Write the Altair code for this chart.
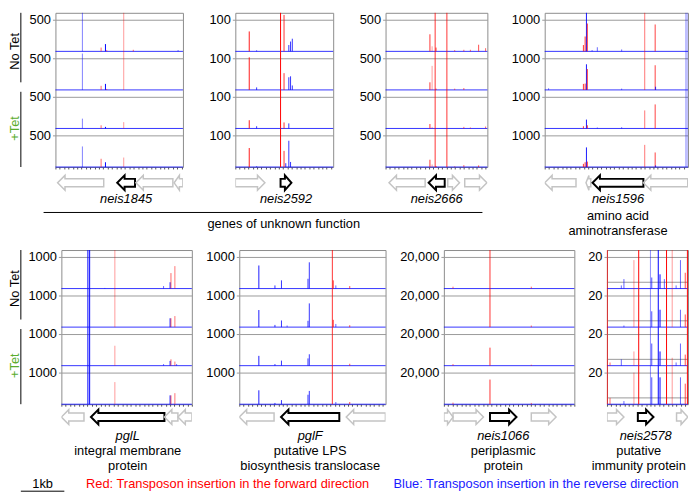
import altair as alt
import pandas as pd

FONT = "Liberation Sans, Arial, Helvetica, sans-serif"
RED = "#ff0000"
BLUE = "#0000ff"
GRID = "#9a9a9a"
FRAME = "#8c8c8c"
GENE_OTHER = "#c4c4c4"
GENE_TARGET = "#000000"
GREEN = "#5aac2e"

PX_PER_KB = 44.0
TRACK_H = 156
N_TRACKS = 4
GAP = 39 / 32            # baseline-to-baseline distance in units of the labelled read count
Y_TOP = TRACK_H / 32     # top of the frame in the same units
BODY, HEAD, HEAD_KB = 4.0, 7.5, 0.17

CONDITIONS = ["No Tet", "+Tet"]

# spikes: (position kb, direction F=forward/R=reverse, reads in tracks [NoTet-1, NoTet-2, +Tet-1, +Tet-2], opacity)
P1_SPIKES = [
    (0.62, "R", [9999, 575, 155, 325], 0.5),
    (1.05, "F", [60, 65, 50, 130], 0.6),
    (1.15, "R", [115, 95, 25, 75], 1.0),
    (1.18, "F", [20, 15, 0, 0], 0.6),
    (1.57, "F", [9999, 9999, 100, 150], 0.4),
    (1.79, "F", [25, 0, 0, 0], 0.6),
    (2.82, "R", [20, 0, 0, 0], 0.6),
]
P2_SPIKES = [
    (0.32, "F", [63, 103, 26, 60], 0.9),
    (0.49, "R", [3, 8, 7, 2], 0.8),
    (1.04, "F", [999, 999, 999, 999], 1.0),
    (1.12, "F", [115, 53, 19, 51], 0.8),
    (1.16, "R", [0, 0, 0, 12], 0.8),
    (1.23, "R", [20, 40, 16, 83], 0.8),
    (1.27, "R", [31, 43, 0, 16], 0.8),
    (1.31, "R", [40, 14, 0, 0], 0.8),
]
P3_SPIKES = [
    (1.02, "F", [270, 120, 70, 115], 0.8),
    (1.07, "F", [80, 380, 25, 40], 0.4),
    (1.14, "F", [9999, 9999, 9999, 9999], 0.8),
    (1.16, "F", [60, 20, 0, 15], 0.8),
    (1.41, "F", [9999, 9999, 9999, 9999], 0.8),
    (1.59, "F", [20, 20, 0, 10], 0.6),
    (1.80, "F", [25, 30, 25, 30], 0.6),
    (1.95, "F", [25, 0, 15, 0], 0.6),
    (2.14, "F", [105, 0, 0, 25], 0.7),
    (2.30, "F", [50, 0, 30, 0], 0.6),
]
P4_SPIKES = [
    (0.09, "R", [0, 50, 0, 0], 0.6),
    (0.89, "F", [200, 190, 70, 100], 0.8),
    (0.93, "F", [470, 200, 0, 150], 0.8),
    (0.96, "R", [9999, 810, 280, 620], 0.9),
    (0.98, "F", [880, 660, 100, 170], 0.8),
    (1.09, "R", [40, 0, 0, 0], 0.6),
    (1.21, "R", [130, 0, 30, 0], 0.6),
    (1.77, "R", [60, 40, 40, 0], 0.6),
    (2.30, "F", [9999, 9999, 570, 700], 0.55),
    (2.54, "F", [850, 780, 760, 460], 0.75),
    (2.55, "R", [0, 100, 0, 50], 0.8),
]
P4_BANDS = [(3.26, "R")]
P5_SPIKES = [
    (0.61, "R", [9999, 9999, 9999, 9999], 1.0),
    (0.65, "R", [9999, 9999, 9999, 9999], 1.0),
    (1.00, "R", [20, 0, 0, 0], 0.6),
    (1.23, "F", [9999, 9999, 630, 700], 0.4),
    (2.35, "R", [80, 0, 50, 0], 0.6),
    (2.50, "R", [200, 280, 150, 280], 0.9),
    (2.52, "F", [490, 280, 200, 280], 0.6),
    (2.61, "F", [710, 350, 130, 350], 0.55),
    (2.65, "R", [0, 0, 50, 0], 0.6),
]
P6_SPIKES = [
    (0.45, "R", [730, 540, 310, 440], 0.9),
    (0.82, "R", [100, 70, 50, 40], 0.8),
    (0.97, "R", [260, 210, 160, 130], 0.8),
    (1.10, "R", [0, 50, 0, 0], 0.6),
    (1.58, "R", [310, 200, 230, 300], 0.8),
    (1.61, "R", [830, 750, 360, 420], 0.8),
    (2.14, "F", [9999, 9999, 9999, 9999], 0.8),
    (2.16, "F", [260, 230, 0, 0], 0.8),
    (2.22, "R", [100, 100, 0, 70], 0.6),
    (2.54, "F", [80, 60, 60, 70], 0.7),
]
P7_SPIKES = [
    (0.21, "F", [1200, 0, 1000, 1000], 0.6),
    (1.06, "F", [99999, 99999, 11400, 15600], 0.8),
    (2.01, "F", [1200, 1000, 600, 800], 0.6),
]
P8_SPIKES = [
    (0.01, "F", [99, 99, 99, 99], 0.7),
    (0.07, "F", [0, 0, 2, 4], 0.6),
    (0.33, "R", [2, 0, 4, 0], 0.6),
    (0.39, "R", [6, 1, 0, 2], 0.6),
    (0.62, "F", [18, 99, 9, 20], 0.4),
    (0.73, "F", [99, 99, 99, 99], 1.0),
    (1.00, "R", [99, 99, 99, 99], 0.45),
    (1.03, "R", [7, 10, 14, 17], 0.7),
    (1.18, "R", [99, 99, 99, 99], 1.0),
    (1.22, "R", [9, 11, 9, 17], 1.0),
    (1.32, "R", [6, 0, 0, 0], 0.6),
    (1.37, "F", [99, 99, 99, 99], 1.0),
    (1.50, "F", [99, 99, 5, 99], 0.4),
    (1.59, "R", [2, 0, 2, 0], 0.6),
    (1.69, "R", [18, 11, 14, 17], 0.6),
    (1.80, "F", [10, 8, 7, 13], 0.7),
    (1.85, "F", [99, 99, 99, 99], 1.0),
]

# genes: (start kb, end kb, strand, is the gene of interest)
P1_GENES = [(0.05, 1.11, "-", False), (1.42, 1.83, "-", True), (1.85, 2.70, "-", False), (2.73, 2.93, "-", False)]
P2_GENES = [(0.00, 0.68, "+", False), (1.04, 1.29, "+", True)]
P3_GENES = [(0.08, 0.91, "-", False), (0.99, 1.36, "-", True), (1.43, 1.70, "+", False), (1.82, 2.33, "+", False)]
P4_GENES = [(0.00, 0.72, "-", False), (0.95, 1.06, "-", False), (1.10, 2.27, "-", True), (2.27, 3.29, "-", False)]
P5_GENES = [(0.00, 0.52, "-", False), (0.68, 2.37, "-", True), (2.37, 2.68, "-", False), (2.68, 3.0, "-", False)]
P6_GENES = [(0.00, 0.80, "-", False), (0.96, 2.30, "-", True), (2.46, 3.36, "-", False)]
P7_GENES = [(0.00, 0.21, "+", False), (0.21, 0.91, "+", False), (1.06, 1.67, "+", True), (2.01, 2.58, "+", False)]
P8_GENES = [(0.00, 0.39, "+", False), (0.71, 1.07, "+", True), (1.60, 1.86, "+", False)]

ROW1 = [
    dict(gene="neis1845", tick="500", value=500, width=129, spikes=P1_SPIKES, genes=P1_GENES, desc=[]),
    dict(gene="neis2592", tick="100", value=100, width=99, spikes=P2_SPIKES, genes=P2_GENES, desc=[]),
    dict(gene="neis2666", tick="500", value=500, width=103, spikes=P3_SPIKES, genes=P3_GENES, desc=[]),
    dict(gene="neis1596", tick="1000", value=1000, width=145, spikes=P4_SPIKES, genes=P4_GENES,
         desc=["amino acid", "aminotransferase"], bands=P4_BANDS),
]
ROW2 = [
    dict(gene="pglL", tick="1000", value=1000, width=132, spikes=P5_SPIKES, genes=P5_GENES,
         desc=["integral membrane", "protein"]),
    dict(gene="pglF", tick="1000", value=1000, width=148, spikes=P6_SPIKES, genes=P6_GENES,
         desc=["putative LPS", "biosynthesis translocase"]),
    dict(gene="neis1066", tick="20,000", value=20000, width=132, spikes=P7_SPIKES, genes=P7_GENES,
         desc=["periplasmic", "protein"]),
    dict(gene="neis2578", tick="20", value=20, width=82, spikes=P8_SPIKES, genes=P8_GENES,
         desc=["putative", "immunity protein"], low_grid=4, desc_dx=-7),
]
GROUP_LABEL = "genes of unknown function"
LEGEND_RED = "Red: Transposon insertion in the forward direction"
LEGEND_BLUE = "Blue: Transposon insertion in the reverse direction"
SCALE_BAR_KB = 1.0


def track_base(k):
    return (N_TRACKS - 1 - k) * GAP


def spikes_df(spikes, value):
    rows = []
    for pos, d, reads, a in spikes:
        for k, r in enumerate(reads):
            if r <= 0:
                continue
            b = track_base(k)
            rows.append({"x": pos, "y": b, "y2": b + min(r / value, GAP),
                         "col": RED if d == "F" else BLUE, "a": a})
    return pd.DataFrame(rows)


def arrows_df(genes, yc):
    rows = []
    for gi, (s, e, strand, target) in enumerate(genes):
        hl = min(HEAD_KB, 0.6 * (e - s))
        if strand == "+":
            pts = [(s, -BODY), (e - hl, -BODY), (e - hl, -HEAD), (e, 0), (e - hl, HEAD),
                   (e - hl, BODY), (s, BODY), (s, -BODY)]
        else:
            pts = [(e, -BODY), (s + hl, -BODY), (s + hl, -HEAD), (s, 0), (s + hl, HEAD),
                   (s + hl, BODY), (e, BODY), (e, -BODY)]
        for o, (x, dy) in enumerate(pts):
            rows.append({"g": gi, "o": o, "x": x, "y": yc + dy,
                         "col": GENE_TARGET if target else GENE_OTHER,
                         "w": 2.0 if target else 1.5})
    return pd.DataFrame(rows)


def tracks_chart(p):
    xs = alt.Scale(domain=[0, p["width"] / PX_PER_KB], nice=False, zero=False)
    ys = alt.Scale(domain=[0, Y_TOP], nice=False, zero=False)
    grid_vals = [track_base(k) + 1 for k in range(N_TRACKS)]
    yaxis = alt.Axis(values=grid_vals, labelExpr=f"'{p['tick']}'", grid=True, gridColor=GRID,
                     gridWidth=1, ticks=True, tickColor=GRID, tickSize=3, domain=False, title=None,
                     labelFont=FONT, labelFontSize=13, labelColor="#000000", labelPadding=2)
    xaxis = alt.Axis(labels=False, ticks=True, tickSize=2, tickColor="#555555", tickCount=25,
                     domain=False, grid=False, title=None)
    yenc = alt.Y("y:Q", scale=ys, axis=yaxis)
    xenc = alt.X("x:Q", scale=xs, axis=xaxis)
    layers = []
    if p.get("low_grid"):
        lg = pd.DataFrame({"y": [track_base(k) + p["low_grid"] / p["value"] for k in range(N_TRACKS)]})
        layers.append(alt.Chart(lg).mark_rule(color=GRID, strokeWidth=1).encode(y=yenc))
    base = pd.DataFrame({"y": [track_base(k) for k in range(N_TRACKS)]})
    layers.append(alt.Chart(base).mark_rule(color=BLUE, strokeWidth=1, opacity=0.8).encode(y=yenc))
    if p.get("bands"):
        bd = pd.DataFrame([{"x": x, "y": 0.0, "y2": Y_TOP, "col": RED if d == "F" else BLUE}
                           for x, d in p["bands"]])
        layers.append(alt.Chart(bd).mark_rule(strokeWidth=3, opacity=0.25).encode(
            x=xenc, y=yenc, y2="y2:Q", color=alt.Color("col:N", scale=None)))
    layers.append(alt.Chart(spikes_df(p["spikes"], p["value"])).mark_rule(strokeWidth=1).encode(
        x=xenc, y=yenc, y2="y2:Q", color=alt.Color("col:N", scale=None),
        opacity=alt.Opacity("a:Q", scale=None)))
    return alt.layer(*layers).properties(width=p["width"], height=TRACK_H)


def genes_chart(p, height, arrow_y, name_y, desc_y, desc_step):
    xs = alt.Scale(domain=[0, p["width"] / PX_PER_KB], nice=False, zero=False)
    gys = alt.Scale(domain=[0, height], reverse=True, nice=False, zero=False)
    xenc = alt.X("x:Q", scale=xs, axis=None)
    yenc = alt.Y("y:Q", scale=gys, axis=None)
    arr = alt.Chart(arrows_df(p["genes"], arrow_y)).mark_line(
        strokeJoin="miter", strokeCap="square", clip=True).encode(
        x=xenc, y=yenc, order=alt.Order("o:Q"), detail="g:N",
        color=alt.Color("col:N", scale=None), strokeWidth=alt.StrokeWidth("w:Q", scale=None))
    tgt = [g for g in p["genes"] if g[3]][0]
    cx = (tgt[0] + tgt[1]) / 2
    name = alt.Chart(pd.DataFrame({"x": [cx], "y": [name_y], "t": [p["gene"]]})).mark_text(
        font=FONT, fontSize=13, fontStyle="italic", baseline="middle", align="center").encode(
        x=xenc, y=yenc, text="t:N")
    layers = [arr, name]
    if p["desc"]:
        dd = pd.DataFrame({"x": [cx] * len(p["desc"]),
                           "y": [desc_y + i * desc_step for i in range(len(p["desc"]))],
                           "t": p["desc"]})
        layers.append(alt.Chart(dd).mark_text(font=FONT, fontSize=13, baseline="middle", align="center",
                                              dx=p.get("desc_dx", 0)).encode(x=xenc, y=yenc, text="t:N"))
    return alt.layer(*layers).properties(width=p["width"], height=height,
                                         view=alt.ViewBackground(stroke="transparent"))


def panel(p, gh, arrow_y, name_y, desc_y, desc_step):
    return alt.vconcat(tracks_chart(p), genes_chart(p, gh, arrow_y, name_y, desc_y, desc_step),
                       spacing=0, bounds="flush")


def cond_chart():
    ys = alt.Scale(domain=[0, Y_TOP], nice=False, zero=False)
    mid = track_base(1)
    df = pd.DataFrame({"t": CONDITIONS,
                       "y": [(Y_TOP + mid) / 2, mid / 2],
                       "y0": [mid + 0.24, 0.0],
                       "y1": [Y_TOP, mid - 0.06],
                       "col": ["#000000", GREEN]})
    txt = alt.Chart(df).mark_text(font=FONT, fontSize=13, angle=270, baseline="middle", align="center").encode(
        x=alt.value(6), y=alt.Y("y:Q", scale=ys, axis=None), text="t:N", color=alt.Color("col:N", scale=None))
    bar = alt.Chart(df).mark_rule(color="#000000", strokeWidth=1).encode(
        x=alt.value(12), y=alt.Y("y0:Q", scale=ys, axis=None), y2="y1:Q")
    return alt.layer(bar, txt).properties(width=12, height=TRACK_H,
                                          view=alt.ViewBackground(stroke="transparent"))


def group_chart(width, height):
    df = pd.DataFrame({"t": [GROUP_LABEL]})
    rule = alt.Chart(df).mark_rule(color="#000000", strokeWidth=1).encode(
        x=alt.value(-12), x2=alt.value(width), y=alt.value(4))
    txt = alt.Chart(df).mark_text(font=FONT, fontSize=13, baseline="middle", align="center").encode(
        x=alt.value(231), y=alt.value(16), text="t:N")
    return alt.layer(rule, txt).properties(width=width, height=height,
                                           view=alt.ViewBackground(stroke="transparent"))


def footer_chart(width, height):
    xs = alt.Scale(domain=[0, width / PX_PER_KB], nice=False, zero=False)
    start = 12 / PX_PER_KB
    bar = pd.DataFrame({"x": [start], "x2": [start + SCALE_BAR_KB], "t": ["1kb"],
                        "xc": [start + SCALE_BAR_KB / 2]})
    rule = alt.Chart(bar).mark_rule(color="#000000", strokeWidth=1).encode(
        x=alt.X("x:Q", scale=xs, axis=None), x2="x2:Q", y=alt.value(16))
    lab = alt.Chart(bar).mark_text(font=FONT, fontSize=13, baseline="middle", align="center").encode(
        x=alt.X("xc:Q", scale=xs, axis=None), y=alt.value(9), text="t:N")
    leg = pd.DataFrame({"x": [78 / PX_PER_KB, 389 / PX_PER_KB], "t": [LEGEND_RED, LEGEND_BLUE],
                        "col": [RED, "#1a1aff"]})
    legt = alt.Chart(leg).mark_text(font=FONT, fontSize=13, baseline="middle", align="left").encode(
        x=alt.X("x:Q", scale=xs, axis=None), y=alt.value(9), text="t:N", color=alt.Color("col:N", scale=None))
    return alt.layer(rule, lab, legt).properties(width=width, height=height,
                                                 view=alt.ViewBackground(stroke="transparent"))


p1, p2, p3 = [panel(p, 40, 16, 32, 50, 15) for p in ROW1[:3]]
p4 = panel(ROW1[3], 74, 16, 32, 50, 15)
p5, p6, p7, p8 = [panel(p, 70, 13, 32, 47, 16) for p in ROW2]

row1 = alt.hconcat(
    cond_chart(),
    alt.hconcat(alt.vconcat(alt.hconcat(p1, p2, p3, spacing=24), group_chart(432, 34), spacing=0),
                p4, spacing=22),
    spacing=5)
row2 = alt.hconcat(cond_chart(), alt.hconcat(p5, p6, p7, p8, spacing=12), spacing=4)

chart = alt.vconcat(alt.vconcat(row1, row2, spacing=6), footer_chart(676, 18), spacing=0).properties(
    padding=0, background="white"
).configure(font=FONT).configure_view(stroke=FRAME, strokeWidth=1)

chart.save("out.html", embed_options={"renderer": "svg", "actions": False})
